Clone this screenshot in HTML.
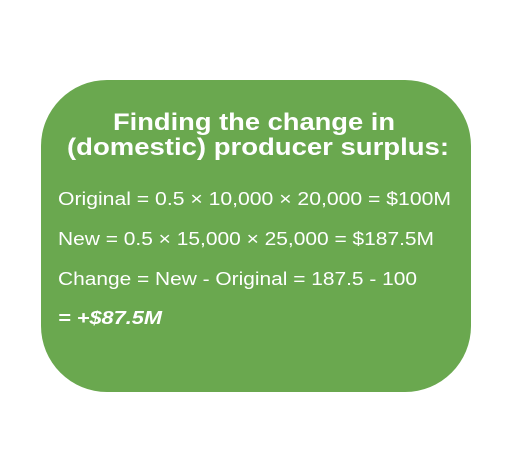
<!DOCTYPE html>
<html><head><meta charset="utf-8"><style>html,body{margin:0;padding:0;background:#fff;width:508px;height:468px;overflow:hidden}</style></head>
<body>
<svg width="508" height="468" viewBox="0 0 508 468" xmlns="http://www.w3.org/2000/svg" font-family="Liberation Sans, sans-serif" fill="#fff">
<rect x="41" y="80" width="430" height="312" rx="66" ry="66" fill="#6aa84f"/>
<text x="113" y="130" font-size="24" font-weight="bold" textLength="282" lengthAdjust="spacingAndGlyphs">Finding the change in</text>
<text x="67" y="155" font-size="24" font-weight="bold" textLength="382" lengthAdjust="spacingAndGlyphs">(domestic) producer surplus:</text>
<text x="58" y="205" font-size="18" textLength="393" lengthAdjust="spacingAndGlyphs">Original = 0.5 × 10,000 × 20,000 = $100M</text>
<text x="58" y="245" font-size="18" textLength="376" lengthAdjust="spacingAndGlyphs">New = 0.5 × 15,000 × 25,000 = $187.5M</text>
<text x="58" y="285" font-size="18" textLength="359" lengthAdjust="spacingAndGlyphs">Change = New - Original = 187.5 - 100</text>
<text x="58" y="324" font-size="18" font-weight="bold" font-style="italic" textLength="104" lengthAdjust="spacingAndGlyphs">= +$87.5M</text>
</svg>
</body></html>
